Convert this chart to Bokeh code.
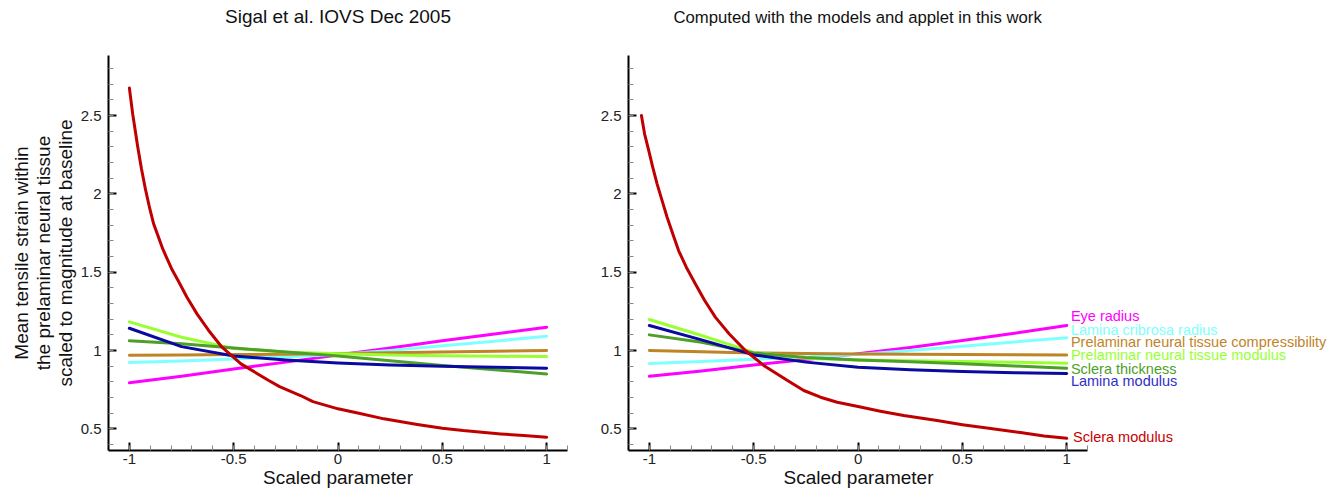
from bokeh.plotting import figure
from bokeh.layouts import row
from bokeh.models import FixedTicker, NumeralTickFormatter, Title
from bokeh.core.properties import value
from bokeh.embed import file_html
from bokeh.resources import INLINE

FONT = "Liberation Sans"

# ---------------- data ----------------
x_grid = [-1, -0.75, -0.5, -0.25, 0, 0.25, 0.5, 0.75, 1]

series_names = ["Eye radius", "Lamina cribrosa radius",
                "Prelaminar neural tissue compressibility",
                "Prelaminar neural tissue modulus", "Sclera thickness",
                "Lamina modulus", "Sclera modulus"]
series_colors = ["#FF00FF", "#80FFFF", "#C08428", "#99FF33", "#4E9E2A", "#0A0AA0", "#C00000"]
label_colors = ["#FF00FF", "#80FFFF", "#C08428", "#99FF33", "#4E9E2A", "#3030C8", "#C80000"]

# Left panel: Sigal et al. IOVS Dec 2005
left_eye_radius = [0.794, 0.836, 0.882, 0.926, 0.972, 1.016, 1.062, 1.106, 1.149]
left_lamina_cribrosa_radius = [0.923, 0.934, 0.946, 0.960, 0.975, 1.000, 1.030, 1.060, 1.091]
left_compressibility = [0.970, 0.972, 0.974, 0.977, 0.981, 0.986, 0.991, 0.996, 1.000]
left_neural_modulus = [1.183, 1.085, 1.013, 0.990, 0.979, 0.971, 0.966, 0.963, 0.962]
left_sclera_thickness = [1.062, 1.044, 1.016, 0.990, 0.965, 0.935, 0.905, 0.877, 0.851]
left_lamina_modulus = [1.142, 1.025, 0.965, 0.940, 0.921, 0.908, 0.900, 0.893, 0.887]
left_sclera_modulus_x = [-1, -0.984, -0.96, -0.942, -0.923, -0.903, -0.884, -0.839, -0.795,
                         -0.764, -0.724, -0.676, -0.62, -0.556, -0.465, -0.332, -0.28,
                         -0.18, -0.12, 0, 0.1, 0.22, 0.38, 0.5, 0.6, 0.78, 0.89, 1]
left_sclera_modulus = [2.676, 2.51, 2.30, 2.16, 2.03, 1.91, 1.81, 1.645, 1.515,
                       1.44, 1.34, 1.234, 1.128, 1.021, 0.915, 0.809, 0.77,
                       0.713, 0.674, 0.628, 0.600, 0.564, 0.528, 0.504, 0.489, 0.468, 0.457, 0.447]

# Right panel: computed with the models and applet in this work
right_eye_radius = [0.836, 0.870, 0.908, 0.942, 0.980, 1.020, 1.064, 1.110, 1.160]
right_lamina_cribrosa_radius = [0.917, 0.930, 0.944, 0.958, 0.975, 1.000, 1.028, 1.055, 1.081]
right_compressibility = [1.000, 0.992, 0.985, 0.981, 0.978, 0.976, 0.974, 0.973, 0.972]
right_neural_modulus = [1.198, 1.096, 0.988, 0.951, 0.940, 0.935, 0.930, 0.925, 0.919]
right_sclera_thickness = [1.100, 1.053, 0.985, 0.955, 0.940, 0.928, 0.915, 0.901, 0.887]
right_lamina_modulus = [1.160, 1.068, 0.972, 0.926, 0.894, 0.877, 0.866, 0.858, 0.853]
right_sclera_modulus_x = [-1.038, -1.023, -1.003, -0.984, -0.963, -0.939, -0.915, -0.888,
                          -0.86, -0.823, -0.78, -0.735, -0.684, -0.617, -0.54, -0.452,
                          -0.34, -0.26, -0.18, -0.1, 0, 0.107, 0.219, 0.379, 0.5, 0.618,
                          0.778, 0.891, 1]
right_sclera_modulus = [2.5, 2.383, 2.276, 2.17, 2.064, 1.957, 1.851, 1.745,
                        1.638, 1.532, 1.426, 1.319, 1.213, 1.106, 1.0, 0.905,
                        0.81, 0.745, 0.702, 0.67, 0.643, 0.613, 0.585, 0.553, 0.527, 0.505,
                        0.477, 0.455, 0.44]

# label anchor heights on the right panel
label_y = [1.223, 1.132, 1.057, 0.972, 0.885, 0.804, 0.447]

x_major = [-1, -0.5, 0, 0.5, 1]
x_minor = [round(-1.1 + 0.1 * i, 2) for i in range(23)]
y_major = [0.5, 1, 1.5, 2, 2.5]
y_minor = [round(0.4 + 0.1 * i, 2) for i in range(25)]

Y_RANGE = (0.362, 2.883)


def style_axes(p, x_bounds):
    for ax in (p.xaxis[0], p.yaxis[0]):
        ax.axis_line_color = "black"
        ax.axis_line_width = 2
        ax.major_tick_line_color = "black"
        ax.major_tick_line_width = 2
        ax.major_tick_in = 8
        ax.major_tick_out = 0
        ax.minor_tick_line_color = "#888888"
        ax.minor_tick_line_width = 1
        ax.minor_tick_in = 5
        ax.minor_tick_out = 0
        ax.major_label_text_font = FONT
        ax.major_label_text_font_size = "15px"
        ax.major_label_text_color = "#222222"
        ax.formatter = NumeralTickFormatter(format="0.[0]")
    p.xaxis[0].ticker = FixedTicker(ticks=x_major, minor_ticks=x_minor)
    p.yaxis[0].ticker = FixedTicker(ticks=y_major, minor_ticks=y_minor)
    p.xaxis[0].bounds = x_bounds
    p.xaxis[0].major_label_standoff = 3
    p.yaxis[0].major_label_standoff = 7
    p.xgrid.visible = False
    p.ygrid.visible = False
    p.outline_line_color = None


def draw(p, ys, red_x, red_y):
    for ser, col in zip(ys, series_colors[:6]):
        p.line(x_grid, ser, line_color=col, line_width=3, line_join="round", line_cap="round")
    p.line(red_x, red_y, line_color=series_colors[6], line_width=3, line_join="round", line_cap="round")


def add_top_title(p, text, align, offset, size):
    # spacer first (closest to the frame), then the visible title above it
    p.add_layout(Title(text=" ", text_font=FONT, text_font_size="19px", standoff=2), "above")
    p.add_layout(Title(text=text, align=align, offset=offset, vertical_align="top", standoff=4,
                       text_font=FONT, text_font_size=size, text_font_style="normal",
                       text_color="#111111"), "above")


# ---------------- left figure ----------------
pl = figure(width=587, height=490, x_range=(-1.1, 1.1), y_range=Y_RANGE,
            output_backend="svg", toolbar_location=None,
            min_border_left=108, min_border_right=20, min_border_top=55, min_border_bottom=40)
style_axes(pl, (-1.1, 1.1))
pl.yaxis[0].axis_label = "Mean tensile strain within\nthe prelaminar neural tissue\nscaled to magnitude at baseline"
pl.yaxis[0].axis_label_text_font = FONT
pl.yaxis[0].axis_label_text_font_size = "19px"
pl.yaxis[0].axis_label_text_font_style = "normal"
pl.yaxis[0].axis_label_text_color = "#111111"
pl.yaxis[0].axis_label_text_line_height = 1.05
pl.yaxis[0].axis_label_standoff = 2
draw(pl, [left_eye_radius, left_lamina_cribrosa_radius, left_compressibility,
          left_neural_modulus, left_sclera_thickness, left_lamina_modulus],
     left_sclera_modulus_x, left_sclera_modulus)
add_top_title(pl, "Sigal et al. IOVS Dec 2005", "center", 0, "19px")
pl.add_layout(Title(text="Scaled parameter", align="center", vertical_align="top",
                    standoff=0, text_font=FONT, text_font_size="19px",
                    text_font_style="normal", text_color="#111111"), "below")

# ---------------- right figure ----------------
pr = figure(width=743, height=490, x_range=(-1.1, 2.264), y_range=Y_RANGE,
            output_backend="svg", toolbar_location=None,
            min_border_left=41, min_border_right=0, min_border_top=55, min_border_bottom=40)
style_axes(pr, (-1.1, 1.1))
draw(pr, [right_eye_radius, right_lamina_cribrosa_radius, right_compressibility,
          right_neural_modulus, right_sclera_thickness, right_lamina_modulus],
     right_sclera_modulus_x, right_sclera_modulus)
label_x = [1.02] * 6 + [1.03]
pr.text(x=label_x, y=label_y, text=series_names, text_color=label_colors,
        text_font=value(FONT), text_font_size="14.5px", text_baseline="middle", text_align="left")
add_top_title(pr, "Computed with the models and applet in this work", "left", 45, "16.7px")
pr.add_layout(Title(text="Scaled parameter", align="left", offset=155, vertical_align="top",
                    standoff=0, text_font=FONT, text_font_size="19px",
                    text_font_style="normal", text_color="#111111"), "below")

layout = row(pl, pr)
open("out.html", "w").write(file_html(layout, INLINE))
